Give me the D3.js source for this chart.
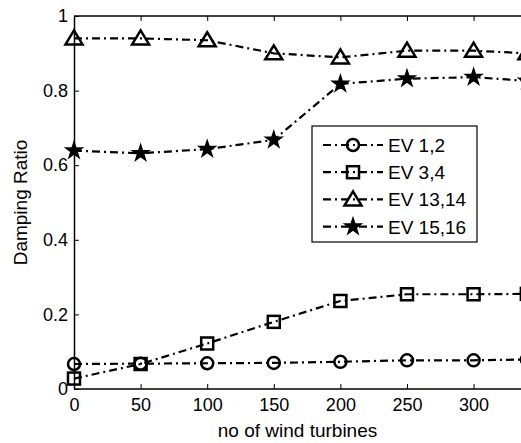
<!DOCTYPE html>
<html>
<head>
<meta charset="utf-8">
<script src="https://cdn.jsdelivr.net/npm/d3@7"></script>
<style>
body { margin: 0; background: #fff; }
svg { display: block; font-family: "Liberation Sans", Arial, sans-serif; }
</style>
</head>
<body>
<svg id="chart" width="521" height="443"></svg>
<script>
var xs = [0, 50, 100, 150, 200, 250, 300, 340]
var ev12 = [0.067, 0.068, 0.069, 0.070, 0.073, 0.077, 0.077, 0.079]
var ev34 = [0.028, 0.067, 0.122, 0.180, 0.236, 0.254, 0.254, 0.255]
var ev1314 = [0.940, 0.940, 0.935, 0.900, 0.889, 0.907, 0.907, 0.900]
var ev1516 = [0.639, 0.632, 0.643, 0.668, 0.818, 0.832, 0.836, 0.826]
var xticks = [0, 50, 100, 150, 200, 250, 300]
var yticks = [0, 0.2, 0.4, 0.6, 0.8, 1]
var names = ['EV 1,2', 'EV 3,4', 'EV 13,14', 'EV 15,16']
var markers = ['circle', 'square', 'triangle', 'star']

var series = [ev12, ev34, ev1314, ev1516].map(function(v, i) {
    return { name: names[i], marker: markers[i], values: v }
})

var svg = d3.select('#chart')
var mLeft = 74, mTop = 16, mBottom = 389, mRight = 521
var x = d3.scaleLinear().domain([0, 335.6]).range([mLeft, mRight])
var y = d3.scaleLinear().domain([0, 1]).range([mBottom, mTop])
var dash = '8,4,2,4'

function drawMarker(g, type) {
    if (type == 'circle') {
        g.append('circle').attr('r', 6).attr('fill', 'none').attr('stroke', '#000').attr('stroke-width', 2.5)
    } else if (type == 'square') {
        g.append('rect').attr('x', -6).attr('y', -6).attr('width', 12).attr('height', 12)
            .attr('fill', 'none').attr('stroke', '#000').attr('stroke-width', 2.5)
    } else if (type == 'triangle') {
        g.append('path').attr('d', 'M0,-8L8.5,6L-8.5,6Z')
            .attr('fill', 'none').attr('stroke', '#000').attr('stroke-width', 2.5)
    } else {
        g.append('path').attr('d', d3.symbol(d3.symbolStar, 80)())
            .attr('fill', '#000').attr('stroke', '#000').attr('stroke-width', 1.5)
    }
}

// top border; right side is out of the picture
svg.append('line').attr('x1', mLeft).attr('x2', mRight).attr('y1', mTop).attr('y2', mTop)
    .attr('stroke', '#000').attr('stroke-width', 1.5)

var xAxis = svg.append('g').attr('transform', 'translate(0,' + mBottom + ')')
    .call(d3.axisBottom(x).tickValues(xticks).tickSizeInner(-5).tickSizeOuter(0).tickPadding(9))
var xAxisTop = svg.append('g').attr('transform', 'translate(0,' + mTop + ')')
    .call(d3.axisTop(x).tickValues(xticks).tickSizeInner(-5).tickSizeOuter(0).tickFormat(''))
var yAxis = svg.append('g').attr('transform', 'translate(' + mLeft + ',0)')
    .call(d3.axisLeft(y).tickValues(yticks).tickSizeInner(-5).tickSizeOuter(0).tickPadding(6)
        .tickFormat(function(d) { return d == 0 || d == 1 ? d3.format('d')(d) : d3.format('.1f')(d) }))

svg.selectAll('.domain').attr('stroke', '#000').attr('stroke-width', 1.5)
svg.selectAll('.tick line').attr('stroke', '#000').attr('stroke-width', 1)
svg.selectAll('.tick text').attr('font-size', 18).attr('fill', '#000')
    .attr('font-family', '"Liberation Sans", Arial, sans-serif')
xAxis.selectAll('.domain').attr('d', 'M' + mLeft + ',0H' + mRight)
xAxisTop.selectAll('.domain').remove()

svg.append('text').attr('x', (mLeft + mRight) / 2).attr('y', 437).attr('text-anchor', 'middle')
    .attr('font-size', 19).text('no of wind turbines')
svg.append('text').attr('transform', 'translate(27,' + ((mTop + mBottom) / 2) + ') rotate(-90)')
    .attr('text-anchor', 'middle').attr('font-size', 19).text('Damping Ratio')

var line = d3.line().x(function(d, i) { return x(xs[i]) }).y(function(d) { return y(d) })

var plot = svg.append('g')
plot.selectAll('path.series')
    .data(series)
    .enter()
        .append('path')
        .attr('class', 'series')
        .attr('d', function(d) { return line(d.values) })
        .attr('fill', 'none')
        .attr('stroke', '#000')
        .attr('stroke-width', 2.2)
        .attr('stroke-dasharray', dash)

series.forEach(function(s) {
    s.values.forEach(function(v, i) {
        var g = plot.append('g').attr('transform', 'translate(' + x(xs[i]) + ',' + y(v) + ')')
        drawMarker(g, s.marker)
    })
})

// legend
var lg = svg.append('g')
lg.append('rect').attr('x', 312).attr('y', 126).attr('width', 165).attr('height', 116)
    .attr('fill', '#fff').attr('stroke', '#000').attr('stroke-width', 1.2)
var items = lg.selectAll('g.item')
    .data(series)
    .enter()
        .append('g')
        .attr('class', 'item')
        .attr('transform', function(d, i) { return 'translate(0,' + (145 + i * 27.2) + ')' })
items.append('line').attr('x1', 323).attr('x2', 383).attr('y1', 0).attr('y2', 0)
    .attr('stroke', '#000').attr('stroke-width', 2.2).attr('stroke-dasharray', dash)
items.each(function(d) {
    var g = d3.select(this).append('g').attr('transform', 'translate(353,0)')
    drawMarker(g, d.marker)
})
items.append('text').attr('x', 388).attr('y', 7).attr('font-size', 19)
    .text(function(d) { return d.name })
</script>
</body>
</html>
